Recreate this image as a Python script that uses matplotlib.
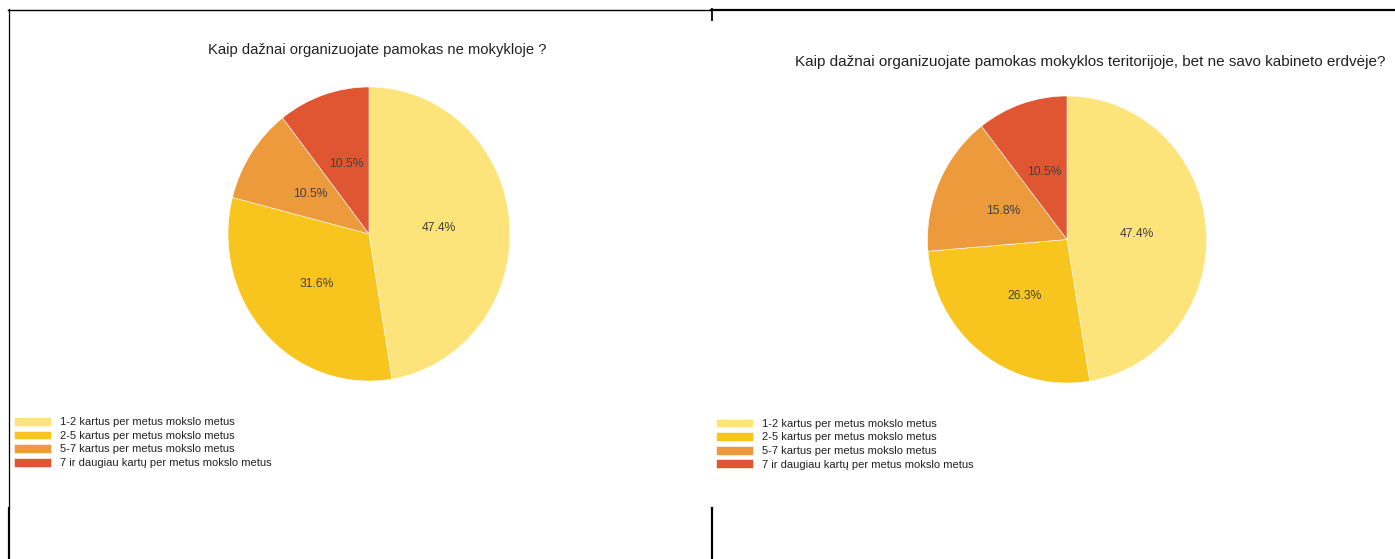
"""Two Google-style pie charts: how often lessons are held outside the classroom."""
import matplotlib
matplotlib.use("Agg")
import matplotlib.pyplot as plt

W, H = 1395, 559
DPI = 100

categories = [
    "1-2 kartus per metus mokslo metus",
    "2-5 kartus per metus mokslo metus",
    "5-7 kartus per metus mokslo metus",
    "7 ir daugiau kartų per metus mokslo metus",
]
left_title = "Kaip dažnai organizuojate pamokas ne mokykloje ?"
left_pct = [47.4, 31.6, 10.5, 10.5]
right_title = "Kaip dažnai organizuojate pamokas mokyklos teritorijoje, bet ne savo kabineto erdvėje?"
right_pct = [47.4, 26.3, 15.8, 10.5]

colors = ["#FDE47A", "#F7C51D", "#EC9A3C", "#E15632"]

plt.rcParams["font.family"] = ["Liberation Sans", "DejaVu Sans"]

fig = plt.figure(figsize=(W / DPI, H / DPI), dpi=DPI)


def px_axes(x0, y0, x1, y1):
    # axes from pixel box (top-left origin)
    return fig.add_axes([x0 / W, 1 - y1 / H, (x1 - x0) / W, (y1 - y0) / H])


# background axes for the document frame lines
bg = fig.add_axes([0, 0, 1, 1])
bg.set_xlim(0, W)
bg.set_ylim(H, 0)
bg.axis("off")
bg.plot([8, 711], [9.5, 9.5], color="black", lw=1.0)
bg.plot([711, W], [9.5, 9.5], color="black", lw=1.6)
bg.plot([8.5, 8.5], [9, 508], color="black", lw=0.9)
bg.plot([9, 9], [508, H], color="black", lw=1.6)
bg.plot([711.5, 711.5], [9, 20], color="black", lw=1.3)
bg.plot([711.5, 711.5], [508, H], color="black", lw=1.6)


def draw_pie(box, values, title, title_xy, title_size, legend_xy):
    ax = px_axes(*box)
    wedges, _, autotexts = ax.pie(
        values, colors=colors, startangle=90, counterclock=False,
        autopct="%.1f%%", pctdistance=0.5,
        wedgeprops=dict(edgecolor="white", linewidth=0.4),
        textprops=dict(fontsize=8.7, color="#404040"),
    )
    ax.set_aspect("auto")
    ax.set_xlim(-1, 1)
    ax.set_ylim(-1, 1)
    ax.axis("off")

    bg.text(title_xy[0], title_xy[1], title, ha="center", va="center",
            fontsize=title_size, color="#222222")

    leg = fig.legend(
        wedges, categories, loc="upper left",
        bbox_to_anchor=(legend_xy[0] / W, 1 - legend_xy[1] / H),
        frameon=False, fontsize=8, handlelength=3.3, handleheight=0.85,
        handletextpad=0.8, labelspacing=0.3, borderpad=0, borderaxespad=0,
    )
    for t in leg.get_texts():
        t.set_color("#222222")


draw_pie((228, 87, 510, 381), left_pct, left_title, (377, 50), 10.6, (14, 417))
draw_pie((927.5, 96, 1206.5, 383), right_pct, right_title, (1090, 62), 11.0, (716, 418.5))

fig.savefig("out.png", dpi=DPI)
